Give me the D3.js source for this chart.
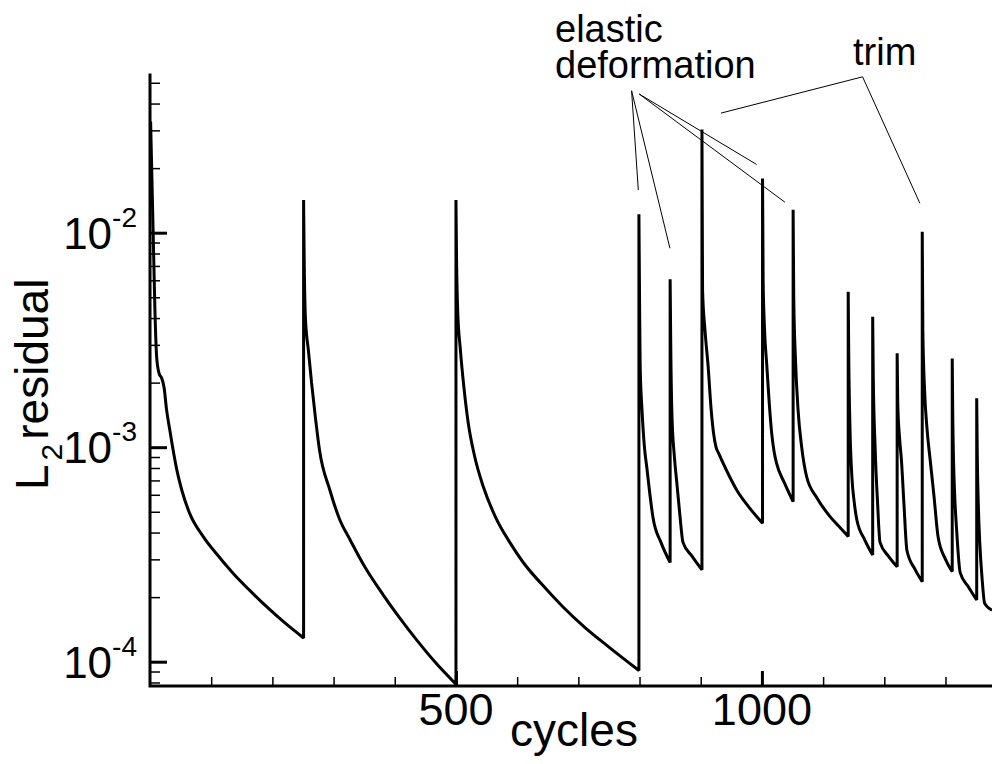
<!DOCTYPE html>
<html>
<head>
<meta charset="UTF-8" />
<title>L2 residual</title>
<script src="https://cdn.jsdelivr.net/npm/d3@7"></script>
<style>
body{margin:0;background:#fff;}
text{font-family:"Liberation Sans",Arial,sans-serif;fill:#000;}
</style>
</head>
<body>
<div id="chart"></div>
<script type="text/javascript">

var w=992,h=764;

// 資料 (cycles, L2 residual)
var cycles=[1,5,8,11,15,19,23,27,32,37,44,52,65,87,110,136,163,191,220,251,
  251,252,254,259,264,270,277,294,310,327,350,381,408,436,468,500,
  500,501,503,507,513,520,530,545,565,588,610,640,675,710,750,799,
  799,800,801,804,808,812,817,822,835,850,
  850,851,853,857,861,866,871,886,902,
  902,903,907,912,917,921,925,929,944,959,980,1001,
  1001,1002,1004,1008,1012,1016,1020,1024,1037,1051,
  1051,1052,1055,1059,1065,1073,1090,1110,1125,1141,
  1141,1142,1144,1147,1151,1155,1168,1181,
  1181,1182,1185,1189,1193,1207,1221,
  1221,1222,1225,1228,1232,1237,1250,1262,
  1262,1263,1266,1270,1275,1281,1288,1300,1311,
  1311,1312,1313,1315,1318,1324,1338,1351,
  1351,1352,1354,1356,1360,1364,1376];
var residual=[0.033,0.0105,0.0044,0.0026,0.0022,0.0021,0.0019,0.0015,0.00122,0.00100,0.00078,0.00063,0.00049,0.000383,0.000315,0.000258,0.000215,0.000180,0.000152,0.000129,
  0.0142,0.0075,0.0040,0.0028,0.0020,0.0014,0.00097,0.00063,0.00046,0.00037,0.00028,0.000205,0.000160,0.000126,0.000098,0.0000785,
  0.0142,0.0075,0.0042,0.0029,0.0019,0.0013,0.00092,0.00065,0.00047,0.00036,0.00029,0.00023,0.00018,0.000145,0.000117,0.000091,
  0.0122,0.0050,0.0024,0.0015,0.00100,0.00080,0.00060,0.00047,0.00036,0.00029,
  0.00607,0.0030,0.0014,0.00090,0.00068,0.00048,0.00036,0.00031,0.000268,
  0.0303,0.0054,0.0035,0.0024,0.0015,0.00116,0.00100,0.00094,0.00076,0.00063,0.00052,0.000442,
  0.0179,0.0060,0.0037,0.0024,0.0016,0.00116,0.00095,0.00084,0.00068,0.000557,
  0.0128,0.0050,0.0025,0.0015,0.00100,0.00073,0.00058,0.00048,0.00043,0.000383,
  0.00531,0.0025,0.0012,0.00073,0.00055,0.00046,0.00037,0.000314,
  0.00406,0.0021,0.00100,0.00055,0.00036,0.00031,0.000277,
  0.00274,0.0016,0.00110,0.00087,0.00055,0.00033,0.00027,0.000236,
  0.0101,0.0035,0.0018,0.0012,0.00087,0.00060,0.00038,0.00030,0.000263,
  0.00259,0.0013,0.00090,0.00060,0.00042,0.00026,0.000222,0.000194,
  0.00169,0.00090,0.00050,0.00036,0.00024,0.000187,0.000174];

// 刻度
var xMajor=[500,1000];
var xMajorLabels=['500','1000'];
var xMinor=[100,200,300,400,600,700,800,900,1100,1200,1300];
var yMajor=[1e-4,1e-3,1e-2];
var yMajorExp=['-4','-3','-2'];
var yMinor=[8e-5,9e-5,2e-4,3e-4,4e-4,5e-4,6e-4,7e-4,8e-4,9e-4,2e-3,3e-3,4e-3,5e-3,6e-3,7e-3,8e-3,9e-3,2e-2,3e-2,4e-2,5e-2];

// 標註 (起點, 終點) in data space
var annoFrom=[[787,0.0459],[787,0.0459],[799.5,0.0443],[799.5,0.0443],[1164.5,0.0533],[1164.5,0.0533]];
var annoTo=[[798,0.0158],[849.7,0.00846],[991.3,0.0208],[1037.6,0.01387],[933,0.0361],[1258.2,0.0137]];

var pLeft=150,pRight=992,pTop=75,pBottom=686;

var x=d3.scaleLinear().domain([0,1376]).range([pLeft,pRight]);
var y=d3.scaleLog().domain([Math.pow(10,-4.1133),Math.pow(10,-1.2648)]).range([pBottom,pTop]);

var svg=d3.select('#chart').append('svg')
  .attr('width',w).attr('height',h);

// 曲線: 每次重啟(同一 cycle 兩點)切成一段, 段內平滑, 段間垂直相連
var segs=[],cur=[];
for(var i=0;i<cycles.length;i++){
  if(i>0 && cycles[i]===cycles[i-1]){segs.push(cur);cur=[];}
  cur.push([cycles[i],residual[i]]);
}
segs.push(cur);

var line=d3.line()
  .x(function(d){return x(d[0]);})
  .y(function(d){return y(d[1]);})
  .curve(d3.curveMonotoneX);

var dstr='';
segs.forEach(function(s,k){
  var p=line(s);
  dstr+=(k===0)?p:('L'+p.slice(1));
});

svg.append('path')
  .attr('d',dstr)
  .attr('fill','none')
  .attr('stroke','#000')
  .attr('stroke-width',3)
  .attr('stroke-linejoin','bevel');

// y 軸
svg.append('g')
  .attr('transform','translate('+pLeft+',0)')
  .call(d3.axisRight(y).tickValues(yMinor).tickSize(10).tickSizeOuter(0).tickFormat(''))
  .call(function(g){g.select('.domain').remove();g.selectAll('line').attr('stroke-width',1.5);});
svg.append('g')
  .attr('transform','translate('+pLeft+',0)')
  .call(d3.axisRight(y).tickValues(yMajor).tickSize(17).tickSizeOuter(0).tickFormat(''))
  .call(function(g){g.select('.domain').remove();g.selectAll('line').attr('stroke-width',3);});

// x 軸
svg.append('g')
  .attr('transform','translate(0,'+pBottom+')')
  .call(d3.axisTop(x).tickValues(xMinor).tickSize(9).tickSizeOuter(0).tickFormat(''))
  .call(function(g){g.select('.domain').remove();g.selectAll('line').attr('stroke-width',1.5);});
svg.append('g')
  .attr('transform','translate(0,'+pBottom+')')
  .call(d3.axisTop(x).tickValues(xMajor).tickSize(15).tickSizeOuter(0).tickFormat(''))
  .call(function(g){g.select('.domain').remove();g.selectAll('line').attr('stroke-width',3);});

// 軸線
svg.append('path')
  .attr('d','M'+pLeft+','+pTop+'V'+pBottom+'H'+pRight)
  .attr('fill','none')
  .attr('stroke','#000')
  .attr('stroke-width',3)
  .attr('stroke-linecap','square');

// y 標籤 10^n
var yl=svg.selectAll('text.ylab').data(yMajor).enter()
  .append('text')
  .attr('class','ylab')
  .attr('x',137)
  .attr('y',function(d){return y(d)+16;})
  .attr('text-anchor','end')
  .style('font-size','44px');
yl.append('tspan').text('10');
yl.append('tspan').attr('dy',-22).style('font-size','28px')
  .text(function(d,i){return yMajorExp[i];});

// x 標籤
svg.selectAll('text.xlab').data(xMajor).enter()
  .append('text')
  .attr('class','xlab')
  .attr('x',function(d){return x(d);})
  .attr('y',725)
  .attr('text-anchor','middle')
  .style('font-size','45px')
  .text(function(d,i){return xMajorLabels[i];});

// 軸標題
svg.append('text')
  .attr('x',574).attr('y',746)
  .attr('text-anchor','middle')
  .style('font-size','46px')
  .text('cycles');

var yt=svg.append('text')
  .attr('transform','translate(48,490) rotate(-90)')
  .style('font-size','46px');
yt.append('tspan').text('L');
yt.append('tspan').attr('dx',4).attr('dy',14).style('font-size','30px').text('2');
yt.append('tspan').attr('dx',4).attr('dy',-14).text('residual');

// 標註線
svg.selectAll('line.anno').data(annoFrom).enter()
  .append('line')
  .attr('class','anno')
  .attr('x1',function(d){return x(d[0]);})
  .attr('y1',function(d){return y(d[1]);})
  .attr('x2',function(d,i){return x(annoTo[i][0]);})
  .attr('y2',function(d,i){return y(annoTo[i][1]);})
  .attr('stroke','#000')
  .attr('stroke-width',1);

svg.append('text').attr('x',555).attr('y',42).style('font-size','38px').text('elastic');
svg.append('text').attr('x',555).attr('y',78).style('font-size','38px').text('deformation');
svg.append('text').attr('x',853).attr('y',65).style('font-size','38px').text('trim');

</script>
</body>
</html>
